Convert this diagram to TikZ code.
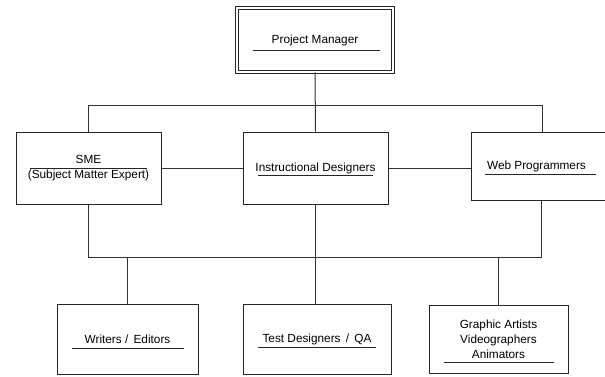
\documentclass[tikz,border=0pt]{standalone}
\usepackage{fontspec}
\setmainfont{Liberation Sans}
\begin{document}
\begin{tikzpicture}[x=1pt,y=-1pt,
  box/.style={draw=black!85, line width=1pt, rectangle, inner sep=0pt, align=center, font=\fontsize{11.8}{15}\selectfont},
  conn/.style={draw=black!80, line width=1pt},
  uline/.style={draw=black!85, line width=1pt}]
\useasboundingbox (0,0) rectangle (605,376);
% boxes
\node[box, double, double distance=2.6pt, line width=0.9pt, minimum width=156pt, minimum height=64pt] (pm) at (315,40) {\raisebox{-2pt}{Project Manager}};
\node[box, minimum width=145pt, minimum height=72pt] (sme) at (88.5,168) {\raisebox{-1.5pt}{SME}\\\raisebox{-1.5pt}{(Subject Matter Expert)}};
\node[box, minimum width=145pt, minimum height=72pt] (id) at (315.5,168) {Instructional Designers};
\node[box, minimum width=137pt, minimum height=68pt] (web) at (539.5,166) {\hspace*{-6pt}Web Programmers};
\node[box, minimum width=141pt, minimum height=70pt] (wr) at (127.5,339) {\raisebox{-1.5pt}{Writers /\ \,Editors}};
\node[box, minimum width=148pt, minimum height=70pt] (test) at (317,339) {\raisebox{-1pt}{Test Designers\ \,/\ \,QA}};
\node[box, minimum width=139pt, minimum height=68pt] (ga) at (498.5,339) {Graphic Artists\\Videographers\\Animators};
% underlines
\draw[uline] (253,50) -- (380,50);
\draw[uline] (30,168) -- (147,168);
\draw[uline] (258,175) -- (373,175);
\draw[uline] (485,174) -- (596,174);
\draw[uline] (72,348) -- (184,348);
\draw[uline] (258,347) -- (376,347);
\draw[uline] (444,362) -- (554,362);
% connectors
\coordinate (tl) at (88,105);
\coordinate (tr) at (542,105);
\coordinate (bl) at (88,257);
\coordinate (br) at (541,257);
\draw[conn] (pm.south) -- (id.north);
\draw[conn] (sme.north -| tl) -- (tl) -- (tr) -- (web.north -| tr);
\draw[conn] (sme.east) -- (id.west);
\draw[conn] (id.east) -- (id.east -| web.west);
\draw[conn] (sme.south -| bl) -- (bl) -- (br) -- (web.south -| br);
\draw[conn] (id.south) -- (id.south |- test.north);
\draw[conn] (wr.north) -- (wr.north |- bl);
\draw[conn] (ga.north) -- (ga.north |- br);
\end{tikzpicture}
\end{document}
